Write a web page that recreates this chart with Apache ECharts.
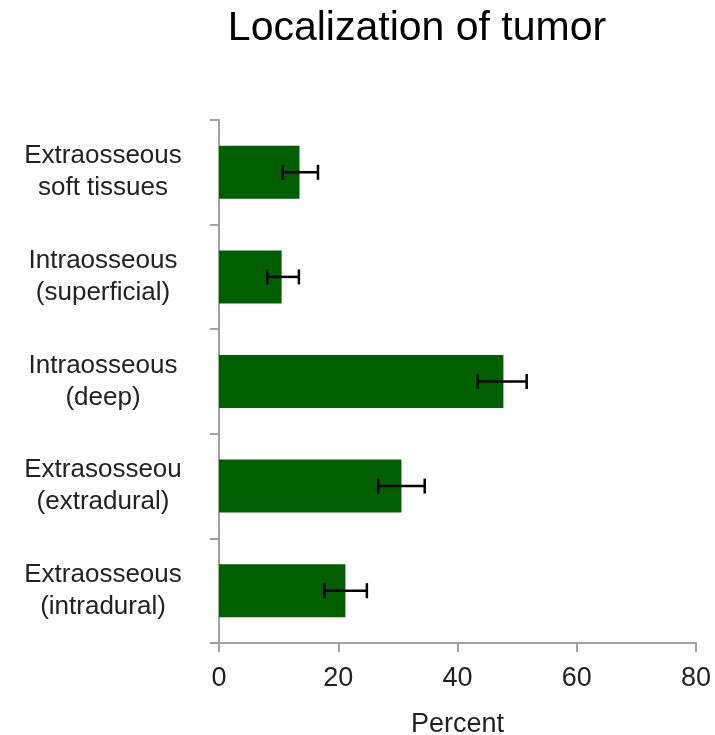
<!DOCTYPE html>
<html>
<head>
<meta charset="utf-8">
<script src="https://cdn.jsdelivr.net/npm/echarts@6/dist/echarts.min.js"></script>
<style>
  html, body { margin: 0; padding: 0; background: #fff; }
  #chart { width: 715px; height: 735px; }
</style>
</head>
<body>
<div id="chart"></div>
<script>
  // categories, top to bottom
  var categories = [
    'Extraosseous\nsoft tissues',
    'Intraosseous\n(superficial)',
    'Intraosseous\n(deep)',
    'Extrasosseou\n(extradural)',
    'Extraosseous\n(intradural)'
  ];
  // percent values
  var percent = [13.5, 10.5, 47.7, 30.6, 21.2];
  // error bar low / high ends
  var errLow = [10.7, 8.1, 43.4, 26.7, 17.7];
  var errHigh = [16.6, 13.4, 51.6, 34.5, 24.8];
  var xTicks = [0, 20, 40, 60, 80];

  var errData = [];
  for (var i = 0; i < categories.length; i++) {
    errData.push([i, errLow[i], errHigh[i]]);
  }

  var myChart = echarts.init(document.getElementById('chart'));
  var axisGray = '#a3a3a3';
  var font = 'Liberation Sans, Arial, sans-serif';

  var option = {
    backgroundColor: '#ffffff',
    animation: false,
    title: {
      text: 'Localization of tumor',
      left: 412,
      top: 3,
      textAlign: 'center',
      textStyle: { fontFamily: font, fontSize: 41, fontWeight: 'normal', color: '#000' }
    },
    grid: { left: 219, right: 19, top: 120, bottom: 92, containLabel: false, outerBoundsMode: 'none' },
    xAxis: {
      type: 'value',
      min: xTicks[0],
      max: xTicks[xTicks.length - 1],
      interval: 20,
      name: 'Percent',
      nameLocation: 'middle',
      nameGap: 68,
      nameTextStyle: { fontFamily: font, fontSize: 27, color: '#222' },
      axisLine: { show: true, lineStyle: { color: axisGray, width: 2 } },
      axisTick: { show: true, length: 9, lineStyle: { color: axisGray, width: 2 } },
      axisLabel: { fontFamily: font, fontSize: 27, color: '#222', margin: 22 },
      splitLine: { show: false }
    },
    yAxis: {
      type: 'category',
      data: categories,
      inverse: true,
      axisLine: { show: true, lineStyle: { color: axisGray, width: 2 } },
      axisTick: { show: true, length: 9, lineStyle: { color: axisGray, width: 2 } },
      axisLabel: {
        fontFamily: font, fontSize: 26, color: '#222',
        align: 'center', margin: 116, lineHeight: 32
      }
    },
    series: [
      {
        name: 'Percent',
        type: 'bar',
        data: percent,
        barWidth: 53,
        itemStyle: { color: '#006000' }
      },
      {
        name: 'error',
        type: 'custom',
        data: errData,
        z: 10,
        renderItem: function (params, api) {
          var idx = api.value(0);
          var lo = api.coord([api.value(1), idx]);
          var hi = api.coord([api.value(2), idx]);
          var h = 7.5;
          var style = { stroke: '#000', lineWidth: 2.5 };
          return {
            type: 'group',
            children: [
              { type: 'line', shape: { x1: lo[0], y1: lo[1], x2: hi[0], y2: hi[1] }, style: style },
              { type: 'line', shape: { x1: lo[0], y1: lo[1] - h, x2: lo[0], y2: lo[1] + h }, style: style },
              { type: 'line', shape: { x1: hi[0], y1: hi[1] - h, x2: hi[0], y2: hi[1] + h }, style: style }
            ]
          };
        },
        encode: { x: [1, 2], y: 0 }
      }
    ]
  };
  myChart.setOption(option);
</script>
</body>
</html>
